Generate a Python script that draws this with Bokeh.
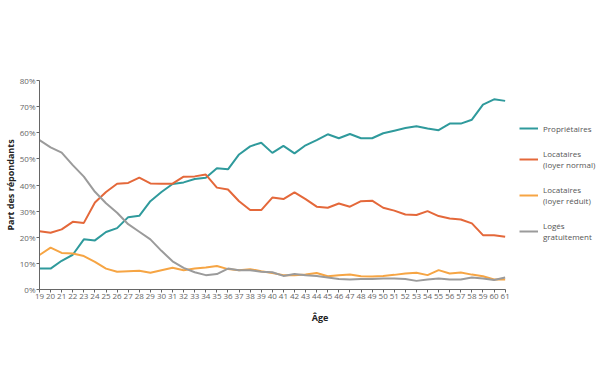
from bokeh.plotting import figure
from bokeh.models import Range1d, FixedTicker, PrintfTickFormatter, Legend, LegendItem
from bokeh.embed import file_html
from bokeh.resources import INLINE

ages = list(range(19, 62))

proprietaires = [8.0, 8.0, 11.0, 13.3, 19.2, 18.8, 22.0, 23.5, 27.7, 28.2,
                 33.8, 37.3, 40.4, 41.0, 42.3, 42.8, 46.4, 46.0, 51.7, 54.8,
                 56.2, 52.3, 55.0, 52.1, 55.2, 57.2, 59.4, 57.9, 59.5, 57.9,
                 57.9, 59.8, 60.8, 61.8, 62.5, 61.6, 61.0, 63.5, 63.5, 65.0,
                 70.8, 72.8, 72.2]

loyer_normal = [22.3, 21.7, 23.0, 25.9, 25.5, 33.3, 37.3, 40.5, 40.8, 42.8,
                40.6, 40.5, 40.5, 43.2, 43.3, 44.0, 39.0, 38.3, 33.8, 30.4,
                30.4, 35.2, 34.6, 37.2, 34.6, 31.7, 31.3, 32.9, 31.7, 33.8,
                34.0, 31.3, 30.2, 28.7, 28.5, 30.0, 28.1, 27.2, 26.8, 25.3,
                20.8, 20.8, 20.2]

loyer_reduit = [13.2, 16.0, 14.0, 13.8, 12.8, 10.6, 8.0, 6.8, 7.0, 7.2,
                6.4, 7.4, 8.3, 7.4, 8.0, 8.4, 9.0, 7.8, 7.4, 7.8,
                7.0, 6.3, 5.5, 5.5, 5.7, 6.3, 5.1, 5.5, 5.7, 5.1,
                5.0, 5.2, 5.6, 6.1, 6.4, 5.5, 7.4, 6.1, 6.5, 5.7,
                5.1, 3.8, 3.8]

gratuit = [57.2, 54.4, 52.4, 47.6, 43.2, 37.4, 33.0, 29.4, 25.0, 22.1,
           19.2, 14.8, 10.8, 8.3, 6.6, 5.5, 5.9, 8.0, 7.4, 7.4,
           6.8, 6.6, 5.2, 5.9, 5.5, 5.2, 4.6, 4.0, 3.8, 4.0,
           4.0, 4.2, 4.2, 4.0, 3.3, 3.8, 4.2, 3.8, 3.8, 4.6,
           4.2, 3.6, 4.6]

y_ticks = [0, 10, 20, 30, 40, 50, 60, 70, 80]

series = [
    ("Propriétaires", proprietaires, "#2f9a9c"),
    ("Locataires\n(loyer normal)", loyer_normal, "#e4683a"),
    ("Locataires\n(loyer réduit)", loyer_reduit, "#f6a544"),
    ("Logés\ngratuitement", gratuit, "#9b9b9b"),
]

FONT = "Open Sans"

# frame spans to the right edge; the x axis itself stops at 61 (bounds)
p = figure(width=600, height=350, output_backend="svg", toolbar_location=None,
           x_range=Range1d(19, 69.6), y_range=Range1d(0, 80),
           min_border_left=36, min_border_right=0, min_border_top=80,
           min_border_bottom=61)
p.outline_line_color = None
p.xgrid.visible = False
p.ygrid.visible = False

items = []
for name, vals, col in series:
    r = p.line(ages, vals, line_color=col, line_width=2)
    items.append(LegendItem(label=name, renderers=[r]))

for ax in (p.xaxis[0], p.yaxis[0]):
    ax.axis_line_color = "#666666"
    ax.major_tick_line_color = "#666666"
    ax.minor_tick_line_color = None
    ax.major_tick_in = 0
    ax.major_tick_out = 3
    ax.major_label_text_font = FONT
    ax.major_label_text_font_size = "8px"
    ax.major_label_text_color = "#666666"
    ax.major_label_standoff = 1
    ax.axis_label_text_font = FONT
    ax.axis_label_text_font_size = "9px"
    ax.axis_label_text_font_style = "bold"
    ax.axis_label_text_color = "#222222"

p.xaxis.ticker = FixedTicker(ticks=ages)
p.xaxis.bounds = (19, 61)
p.xaxis.axis_label = "Âge"
p.xaxis.axis_label_standoff = 9
p.yaxis.ticker = FixedTicker(ticks=y_ticks)
p.yaxis.formatter = PrintfTickFormatter(format="%d%%")
p.yaxis.axis_label = "Part des répondants"
p.yaxis.axis_label_standoff = 0

legend = Legend(items=items, location=(480, 47), padding=0, margin=0,
                spacing=14, glyph_width=19, glyph_height=12, label_standoff=5,
                label_text_font=FONT, label_text_font_size="8px",
                label_text_color="#555555", label_height=10,
                border_line_color=None, background_fill_alpha=0)
p.add_layout(legend, "center")

open("out.html", "w").write(file_html(p, INLINE))
